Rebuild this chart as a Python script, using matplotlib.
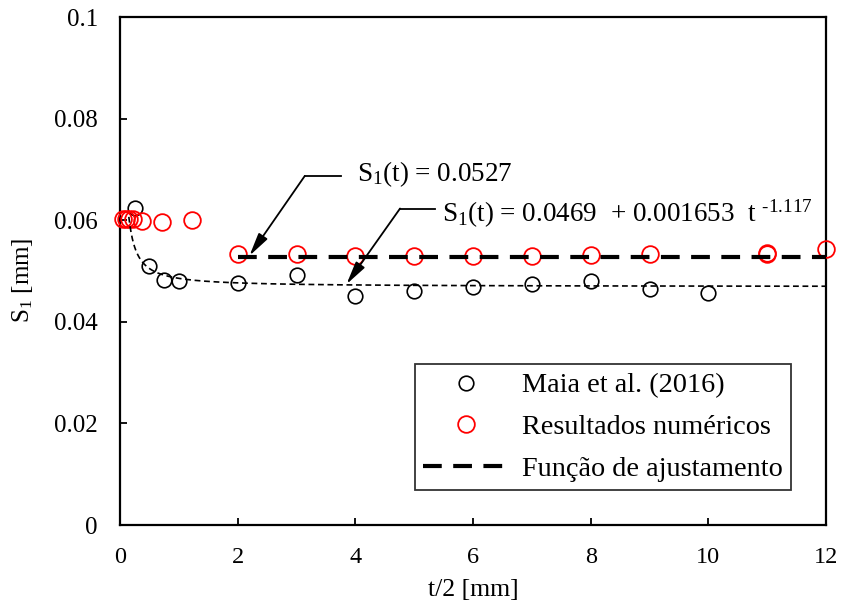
import numpy as np
import matplotlib
matplotlib.use("Agg")
import matplotlib.pyplot as plt

plt.rcParams['font.family'] = ['Liberation Serif', 'DejaVu Serif']
plt.rcParams['mathtext.fontset'] = 'custom'
plt.rcParams['mathtext.rm'] = 'Liberation Serif'
plt.rcParams['mathtext.it'] = 'Liberation Serif'
plt.rcParams['mathtext.default'] = 'regular'

# ---- data ----
maia_x = [0.25, 0.5, 0.75, 1.0, 2, 3, 4, 5, 6, 7, 8, 9, 10]
maia_y = [0.0625, 0.0510, 0.0483, 0.0481, 0.0476, 0.0493, 0.0450, 0.0461,
          0.0468, 0.0475, 0.0480, 0.0465, 0.0457]

num_x = [0.05, 0.1, 0.15, 0.22, 0.37, 0.72, 1.22, 2, 3, 4, 5, 6, 7, 8, 9, 11, 11, 12]
num_y = [0.0602, 0.0602, 0.0603, 0.0602, 0.0599, 0.0597, 0.0600, 0.0533, 0.0533,
         0.0529, 0.0529, 0.0529, 0.0529, 0.0531, 0.0533, 0.0533, 0.0536, 0.0543]

const_fit = 0.0527
const_range = [2, 12]
pow_a, pow_b, pow_c = 0.0469, 0.001653, -1.117
pow_range = [0.15, 12]

x_ticks = [0, 2, 4, 6, 8, 10, 12]
y_ticks = [0, 0.02, 0.04, 0.06, 0.08, 0.1]
y_tick_labels = ['0', '0.02', '0.04', '0.06', '0.08', '0.1']

labels = ['Maia et al. (2016)', 'Resultados numéricos', 'Função de ajustamento']
xlabel = 't/2 [mm]'
ylabel = r'S$_1$ [mm]'
eq1 = r'S$_1$(t) = 0.0527'
eq2 = 'S$_1$(t) = 0.0469  + 0.001653  t $^{\u20101.117}$'

fig = plt.figure(figsize=(8.43, 6.08), dpi=100)
ax = fig.add_axes([120/843, 1-525/608, 706/843, 508/608])

ax.plot(maia_x, maia_y, 'o', ms=10.5, mfc='none', mec='black', mew=1.2,
        label=labels[0], zorder=3, clip_on=False)
ax.plot(num_x, num_y, 'o', ms=12, mfc='none', mec='#ff0000', mew=1.3,
        label=labels[1], zorder=3, clip_on=False)

xc = np.array(const_range, dtype=float)
ax.plot(xc, [const_fit, const_fit], color='black', lw=3.0, dashes=(4.5, 2.75),
        label=labels[2], zorder=4)

xp = np.linspace(pow_range[0], pow_range[1], 600)
ax.plot(xp, pow_a + pow_b * xp ** pow_c, color='black', lw=1.2,
        dashes=(3.5, 2.2), zorder=4)

# annotations
AFS = 19.5
arrow_kw = dict(arrowstyle='-|>,head_length=0.7,head_width=0.16', color='black',
                lw=1.3, shrinkA=0, shrinkB=0, mutation_scale=20)
ax.annotate('', xy=(2.2, 0.0530), xytext=(3.14, 0.0687), arrowprops=arrow_kw)
ax.plot([3.14, 3.76], [0.0687, 0.0687], color='black', lw=1.3)
ax.text(4.03, 0.0690, eq1, fontsize=AFS, ha='left', va='center')

ax.annotate('', xy=(3.85, 0.0474), xytext=(4.76, 0.0623), arrowprops=arrow_kw)
ax.plot([4.76, 5.35], [0.0623, 0.0623], color='black', lw=1.3)
ax.text(5.48, 0.0613, eq2, fontsize=AFS, ha='left', va='center')

ax.set_xlim(0, 12)
ax.set_ylim(0, 0.1)
ax.set_xticks(x_ticks)
ax.set_xticklabels([str(v) for v in x_ticks])
ax.set_yticks(y_ticks)
ax.set_yticklabels(y_tick_labels)
ax.tick_params(direction='in', length=5, width=1.3, pad=16,
               top=False, right=False)
ax.tick_params(axis='x', labelsize=17.5)
ax.tick_params(axis='y', labelsize=18)
for s in ax.spines.values():
    s.set_linewidth(1.6)

ax.set_xlabel(xlabel, fontsize=18.5, labelpad=8)
ax.set_ylabel(ylabel, fontsize=18)
ax.yaxis.set_label_coords((35 - 120) / 706, 0.482)

leg = ax.legend(loc='lower left', bbox_to_anchor=((415-120)/706, (525-490)/508),
                fontsize=20.3, frameon=True, fancybox=False, edgecolor='black',
                borderpad=0.3, labelspacing=0.56, handlelength=3.0,
                handletextpad=0.5, borderaxespad=0)
leg.get_frame().set_linewidth(1.3)

fig.savefig('out.png', dpi=100)
